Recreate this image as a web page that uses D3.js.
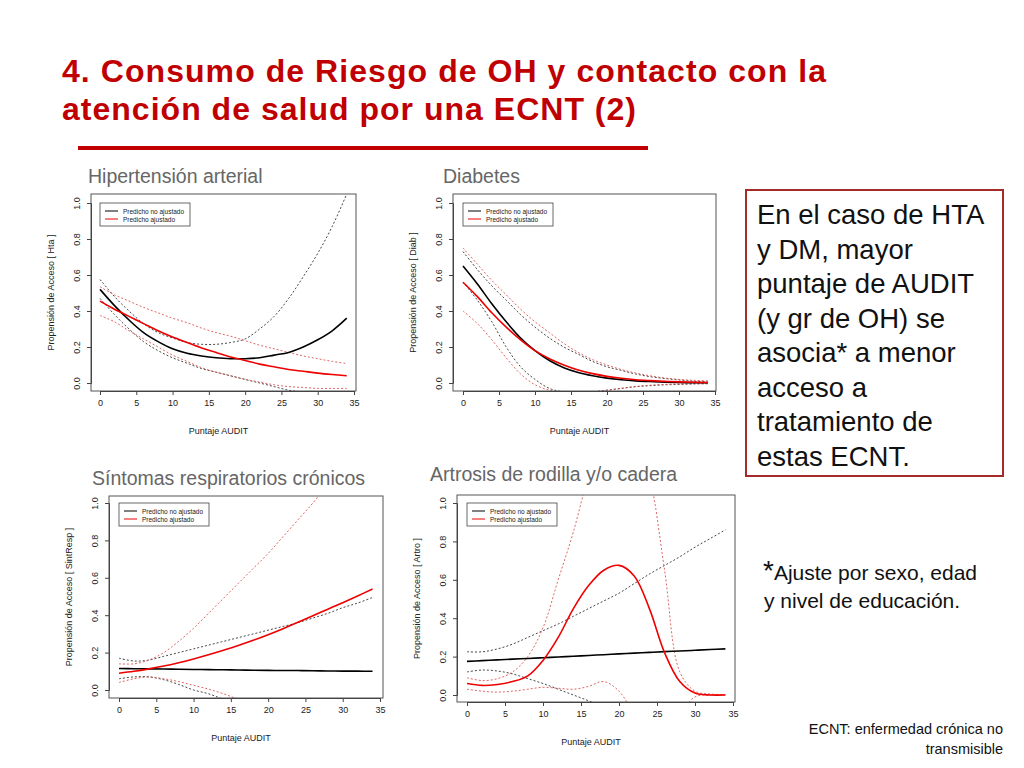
<!DOCTYPE html>
<html><head><meta charset="utf-8">
<script src="https://cdn.jsdelivr.net/npm/d3@7"></script>
<style>body{margin:0;background:#fff;font-family:"Liberation Sans",Arial,sans-serif}</style>
</head><body><svg id="chart" width="1024" height="768"></svg>
<script>
// AUDIT score grid shared by every curve
var auditX = [0,2,4,6,8,10,12,14,16,18,20,22,24,26,28,30,32,34];

// Hipertension
var htaFitNo  = [0.52,0.43,0.35,0.28,0.23,0.19,0.165,0.15,0.14,0.135,0.135,0.14,0.155,0.17,0.2,0.24,0.29,0.36];
var htaUpNo   = [0.575,0.48,0.40,0.33,0.28,0.25,0.225,0.215,0.215,0.225,0.245,0.30,0.37,0.47,0.59,0.72,0.87,1.05];
var htaLowNo  = [0.47,0.38,0.30,0.23,0.18,0.14,0.11,0.08,0.06,0.04,0.02,0.0,-0.02,-0.04,-0.05,-0.06,-0.06,-0.06];
var htaFitAj  = [0.455,0.41,0.37,0.33,0.29,0.255,0.225,0.195,0.17,0.145,0.125,0.105,0.09,0.075,0.065,0.055,0.047,0.04];
var htaUpAj   = [0.535,0.49,0.455,0.42,0.39,0.36,0.335,0.305,0.28,0.26,0.235,0.21,0.19,0.17,0.15,0.135,0.12,0.108];
var htaLowAj  = [0.375,0.34,0.29,0.245,0.2,0.155,0.12,0.085,0.06,0.04,0.02,0.005,-0.01,-0.02,-0.025,-0.03,-0.03,-0.03];

// Diabetes
var diabFitNo = [0.65,0.55,0.44,0.34,0.25,0.18,0.125,0.085,0.058,0.04,0.027,0.018,0.012,0.008,0.005,0.003,0.002,0.001];
var diabUpNo  = [0.73,0.63,0.54,0.46,0.38,0.31,0.25,0.2,0.16,0.12,0.09,0.07,0.05,0.035,0.025,0.017,0.01,0.007];
var diabLowNo = [0.56,0.46,0.34,0.2,0.09,0.02,-0.03,-0.05,-0.06,-0.05,-0.04,-0.03,-0.02,-0.015,-0.01,-0.008,-0.005,-0.004];
var diabFitAj = [0.56,0.48,0.39,0.31,0.24,0.18,0.135,0.1,0.072,0.052,0.037,0.026,0.018,0.013,0.009,0.006,0.004,0.003];
var diabUpAj  = [0.75,0.66,0.57,0.49,0.41,0.34,0.28,0.22,0.17,0.13,0.1,0.075,0.055,0.04,0.028,0.02,0.015,0.012];
var diabLowAj = [0.4,0.33,0.24,0.14,0.05,-0.01,-0.04,-0.06,-0.06,-0.05,-0.04,-0.03,-0.02,-0.012,-0.008,-0.005,-0.004,-0.003];

// Sintomas respiratorios
var respFitNo = [0.115,0.114,0.113,0.112,0.111,0.110,0.109,0.108,0.107,0.106,0.105,0.104,0.104,0.103,0.102,0.101,0.101,0.100];
var respUpNo  = [0.17,0.155,0.16,0.18,0.2,0.22,0.24,0.26,0.28,0.3,0.32,0.34,0.36,0.385,0.41,0.44,0.465,0.495];
var respLowNo = [0.06,0.07,0.07,0.055,0.03,0.0,-0.02,-0.05,-0.08,-0.1,-0.12,-0.14,-0.16,-0.18,-0.2,-0.22,-0.24,-0.26];
var respFitAj = [0.09,0.1,0.113,0.128,0.146,0.166,0.188,0.212,0.238,0.266,0.296,0.328,0.362,0.397,0.432,0.467,0.503,0.54];
var respUpAj  = [0.14,0.14,0.16,0.2,0.26,0.33,0.41,0.49,0.57,0.65,0.73,0.82,0.91,1.0,1.1,1.2,1.3,1.4];
var respLowAj = [0.04,0.06,0.07,0.06,0.045,0.025,0.005,-0.02,-0.05,-0.08,-0.11,-0.14,-0.17,-0.2,-0.23,-0.26,-0.29,-0.32];

// Artrosis
var artFitNo  = [0.175,0.179,0.183,0.187,0.19,0.194,0.198,0.202,0.206,0.21,0.214,0.218,0.222,0.226,0.229,0.233,0.237,0.24];
var artUpNo   = [0.225,0.225,0.24,0.265,0.3,0.335,0.37,0.41,0.45,0.49,0.53,0.58,0.63,0.675,0.72,0.77,0.815,0.86];
var artLowNo  = [0.12,0.13,0.125,0.11,0.085,0.06,0.03,0.0,-0.03,-0.06,-0.09,-0.12,-0.15,-0.18,-0.21,-0.24,-0.27,-0.3];
var artFitAj  = [0.06,0.05,0.055,0.07,0.1,0.18,0.3,0.45,0.57,0.65,0.675,0.62,0.45,0.22,0.07,0.01,0.0,0.0];
var artUpAj   = [0.09,0.075,0.085,0.12,0.2,0.35,0.6,0.85,1.15,1.4,1.5,1.4,1.15,0.65,0.12,0.02,0.005,0.003];
var artLowAj  = [0.03,0.02,0.015,0.02,0.03,0.04,0.035,0.03,0.045,0.07,0.02,-0.1,-0.2,-0.2,-0.1,-0.01,0.0,0.0];

var yTicks = [0,0.2,0.4,0.6,0.8,1.0];
var xTicks = [0,5,10,15,20,25,30,35];

var panels = [
  {title:"Hipertensión arterial", tx:88, ty:183, ylab:"Propensión de Acceso [ Hta ]",
   box:[91,194,356,391], xr:[100,354], yr:[383,203],
   s:[htaFitNo,htaUpNo,htaLowNo,htaFitAj,htaUpAj,htaLowAj]},
  {title:"Diabetes", tx:443, ty:183, ylab:"Propensión de Acceso [ Diab ]",
   box:[453,194,716,391], xr:[463,715], yr:[383,203],
   s:[diabFitNo,diabUpNo,diabLowNo,diabFitAj,diabUpAj,diabLowAj]},
  {title:"Síntomas respiratorios crónicos", tx:92, ty:485, ylab:"Propensión de Acceso [ SintResp ]",
   box:[109,496,383,698], xr:[119,380], yr:[690,503],
   s:[respFitNo,respUpNo,respLowNo,respFitAj,respUpAj,respLowAj]},
  {title:"Artrosis de rodilla y/o cadera", tx:430, ty:481, ylab:"Propensión de Acceso [ Artro ]",
   box:[457,495,735,702], xr:[467,733], yr:[695,503],
   s:[artFitNo,artUpNo,artLowNo,artFitAj,artUpAj,artLowAj]}
];

var svg = d3.select("#chart");

svg.append("text").attr("x",62).attr("y",82).attr("fill","#c00000")
  .attr("font-size",32).attr("font-weight","bold").attr("font-family","Liberation Sans, Arial")
  .attr("textLength",764).text("4. Consumo de Riesgo de OH y contacto con la");
svg.append("text").attr("x",62).attr("y",120).attr("fill","#c00000")
  .attr("font-size",32).attr("font-weight","bold").attr("font-family","Liberation Sans, Arial")
  .attr("textLength",574).text("atención de salud por una ECNT (2)");
svg.append("line").attr("x1",78).attr("x2",648).attr("y1",148).attr("y2",148)
  .attr("stroke","#c00000").attr("stroke-width",4);

panels.forEach(function (p, i) {
  var x = d3.scaleLinear().domain([0,35]).range(p.xr);
  var y = d3.scaleLinear().domain([0,1]).range(p.yr);
  var b = p.box;
  var g = svg.append("g").attr("font-family","Liberation Sans, Arial");

  g.append("text").attr("x",p.tx).attr("y",p.ty).attr("font-size",19.5).attr("fill","#666")
    .text(p.title);

  svg.append("clipPath").attr("id","clip"+i).append("rect")
    .attr("x",b[0]).attr("y",b[1]).attr("width",b[2]-b[0]).attr("height",b[3]-b[1]);

  var line = d3.line().curve(d3.curveCatmullRom)
    .x(function (d, k) { return x(auditX[k]); })
    .y(function (d) { return y(d); });

  var styles = [
    {c:"#000", w:1.6, dash:null}, {c:"#333", w:0.9, dash:"2,2"}, {c:"#333", w:0.9, dash:"2,2"},
    {c:"#e00", w:1.6, dash:null}, {c:"#d55", w:0.9, dash:"2,2"}, {c:"#d55", w:0.9, dash:"2,2"}
  ];
  var order = [1,2,4,5,0,3];
  order.forEach(function (k) {
    g.append("path").datum(p.s[k]).attr("clip-path","url(#clip"+i+")")
      .attr("d",line).attr("fill","none").attr("stroke",styles[k].c)
      .attr("stroke-width",styles[k].w).attr("stroke-dasharray",styles[k].dash);
  });

  g.append("rect").attr("x",b[0]).attr("y",b[1]).attr("width",b[2]-b[0]).attr("height",b[3]-b[1])
    .attr("fill","none").attr("stroke","#555").attr("stroke-width",1);

  var ya = g.append("g").attr("transform","translate("+b[0]+",0)")
    .call(d3.axisLeft(y).tickValues(yTicks).tickSize(4).tickFormat(d3.format(".1f")));
  ya.selectAll("text").attr("transform","rotate(-90)").attr("x",0).attr("y",-11)
    .attr("dy","0").style("text-anchor","middle").attr("font-size",9).attr("fill","#222");
  var xa = g.append("g").attr("transform","translate(0,"+b[3]+")")
    .call(d3.axisBottom(x).tickValues(xTicks).tickSize(4));
  xa.selectAll("text").attr("font-size",9).attr("fill","#222").attr("y",9);
  g.selectAll(".domain, .tick line").attr("stroke","#444");

  g.append("text").attr("x",(b[0]+b[2])/2 - 5).attr("y",b[3]+43).attr("font-size",9)
    .attr("text-anchor","middle").attr("fill","#222").text("Puntaje AUDIT");
  g.append("text").attr("transform","translate("+(b[0]-37)+","+((b[1]+b[3])/2)+") rotate(-90)")
    .attr("font-size",9).attr("text-anchor","middle").attr("fill","#222").text(p.ylab);

  // legend
  var lx = x(0), ly = y(1);
  g.append("rect").attr("x",lx).attr("y",ly).attr("width",90).attr("height",23)
    .attr("fill","#fff").attr("stroke","#444").attr("stroke-width",0.8);
  [["Predicho no ajustado","#000"],["Predicho ajustado","#e00"]].forEach(function (e, j) {
    g.append("line").attr("x1",lx+5).attr("x2",lx+18).attr("y1",ly+8+j*8).attr("y2",ly+8+j*8)
      .attr("stroke",e[1]).attr("stroke-width",1);
    g.append("text").attr("x",lx+23).attr("y",ly+10.5+j*8).attr("font-size",6.5).attr("fill","#222").text(e[0]);
  });
});

// side note box
svg.append("rect").attr("x",746).attr("y",190).attr("width",257).attr("height",286)
  .attr("fill","none").attr("stroke","#a52a2a").attr("stroke-width",2);
var note = ["En el caso de HTA","y DM, mayor","puntaje de AUDIT","(y gr de OH) se","asocia* a menor","acceso a","tratamiento de","estas ECNT."];
svg.selectAll(".note").data(note).enter().append("text")
  .attr("x",757).attr("y",function (d, k) { return 224 + k*34.5; })
  .attr("font-size",27.5).attr("font-family","Liberation Sans, Arial").attr("fill","#111").text(function (d) { return d; });

svg.append("text").attr("x",763).attr("y",580).attr("font-size",21).attr("fill","#111")
  .attr("font-family","Liberation Sans, Arial")
  .html('<tspan font-size="28" dy="0">*</tspan><tspan>Ajuste por sexo, edad</tspan>');
svg.append("text").attr("x",764).attr("y",608).attr("font-size",21).attr("fill","#111")
  .attr("font-family","Liberation Sans, Arial").text("y nivel de educación.");
svg.append("text").attr("x",1003).attr("y",734).attr("font-size",14.5).attr("fill","#111")
  .attr("text-anchor","end").attr("font-family","Liberation Sans, Arial").text("ECNT: enfermedad crónica no");
svg.append("text").attr("x",1003).attr("y",754).attr("font-size",14.5).attr("fill","#111")
  .attr("text-anchor","end").attr("font-family","Liberation Sans, Arial").text("transmisible");
</script></body></html>
